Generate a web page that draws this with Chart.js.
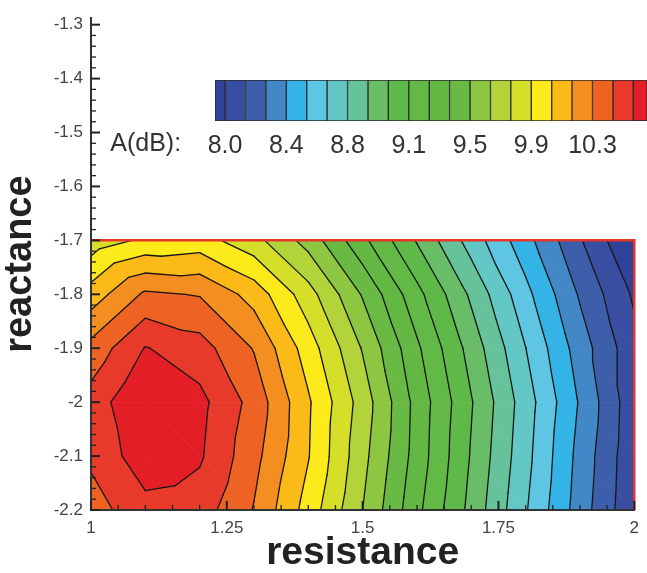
<!DOCTYPE html>
<html>
<head>
<meta charset="utf-8">
<script src="https://cdn.jsdelivr.net/npm/chart.js@4.4.1/dist/chart.umd.min.js"></script>
<style>
  body { margin: 0; background: #fff; }
  #wrap { position: relative; width: 647px; height: 573px; }
  #main-box { position: absolute; left: 0; top: 0; width: 647px; height: 573px; }
  #bar-box { position: absolute; left: 0; top: 0; width: 647px; height: 170px; }
</style>
</head>
<body>
<div id="wrap">
  <div id="main-box"><canvas id="main"></canvas></div>
  <div id="bar-box"><canvas id="legend"></canvas></div>
</div>
<script>
const RESISTANCE = [1.0, 1.1, 1.2, 1.3, 1.4, 1.5, 1.6, 1.7, 1.8, 1.9, 2.0];
const REACTANCE = [-1.7, -1.8, -1.9, -2.0, -2.1, -2.2];

// A(dB) per row of reactance, left to right in resistance
const A_170 = [9.84, 9.94, 9.97, 9.83, 9.61, 9.31, 9.01, 8.71, 8.43, 8.14, 7.86];
const A_180 = [10.10, 10.32, 10.29, 10.12, 9.84, 9.52, 9.19, 8.87, 8.55, 8.24, 7.98];
const A_190 = [10.34, 10.56, 10.48, 10.29, 9.98, 9.65, 9.30, 8.97, 8.64, 8.32, 8.04];
const A_200 = [10.48, 10.68, 10.59, 10.38, 10.06, 9.73, 9.36, 9.03, 8.70, 8.37, 8.04];
const A_210 = [10.45, 10.63, 10.57, 10.34, 10.05, 9.70, 9.35, 9.01, 8.68, 8.34, 8.03];
const A_220 = [10.37, 10.51, 10.49, 10.29, 9.99, 9.66, 9.31, 8.98, 8.65, 8.32, 8.02];
const A_ROWS = [A_170, A_180, A_190, A_200, A_210, A_220];

// contour levels and the colour of each band between them
const LEVELS = [8.0, 8.128, 8.255, 8.383, 8.511, 8.638, 8.766, 8.894, 9.021, 9.149, 9.277,
                9.404, 9.532, 9.660, 9.787, 9.915, 10.043, 10.170, 10.298, 10.426, 10.553];
const LEVEL_LABELS = [8.0, 8.383, 8.766, 9.149, 9.532, 9.915, 10.298];
const BAR_MIN = 7.937;
const BAR_MAX = 10.639;
const BAND_COLORS = [
    '#31429a', '#3a4ea1', '#3d5eab', '#4287c6', '#33b3e6', '#5ec6e3', '#63c7c6', '#66c29b',
    '#69bd67', '#5fb948', '#62b946', '#63b844', '#69ba44', '#8dc641', '#b2d339', '#d5df29',
    '#fcea1a', '#fbba18', '#f48e21', '#ee6223', '#e83a2a', '#e41e26',
];

const X_TICKS = [1, 1.25, 1.5, 1.75, 2];
const Y_TICKS = [-2.2, -2.1, -2.0, -1.9, -1.8, -1.7, -1.6, -1.5, -1.4, -1.3];

const FONT = "'Liberation Sans', Arial, sans-serif";

const clipPoly = (poly, f) => {
    const out = [];
    for (let k = 0; k < poly.length; k++) {
        const a = poly[k], b = poly[(k + 1) % poly.length];
        const fa = f(a), fb = f(b);
        if (fa >= 0) out.push(a);
        if ((fa >= 0) !== (fb >= 0)) {
            const t = fa / (fa - fb);
            out.push({ x: a.x + t * (b.x - a.x), y: a.y + t * (b.y - a.y), v: a.v + t * (b.v - a.v) });
        }
    }
    return out;
};

const levelSegment = (tri, lv) => {
    const pts = [];
    for (let k = 0; k < 3; k++) {
        const a = tri[k], b = tri[(k + 1) % 3];
        if ((a.v < lv) !== (b.v < lv)) {
            const t = (lv - a.v) / (b.v - a.v);
            pts.push([a.x + t * (b.x - a.x), a.y + t * (b.y - a.y)]);
        }
    }
    return pts.length === 2 ? pts : null;
};

const getTriangles = (chart) => {
    const { x, y } = chart.scales;
    const node = (i, j) => ({
        x: x.getPixelForValue(RESISTANCE[j]),
        y: y.getPixelForValue(REACTANCE[i]),
        v: A_ROWS[i][j],
    });
    const tris = [];
    for (let i = 0; i < REACTANCE.length - 1; i++) {
        for (let j = 0; j < RESISTANCE.length - 1; j++) {
            const p00 = node(i, j), p01 = node(i, j + 1), p10 = node(i + 1, j), p11 = node(i + 1, j + 1);
            tris.push([p00, p01, p11], [p00, p11, p10]);
        }
    }
    return tris;
};

// filled contour bands + contour lines, drawn under the axes
const contourPlugin = {
    id: 'contour',
    beforeDraw(chart) {
        const ctx = chart.ctx;
        const tris = getTriangles(chart);
        ctx.save();
        ctx.lineJoin = 'round';
        tris.forEach((tri) => {
            BAND_COLORS.forEach((color, b) => {
                let poly = tri;
                if (b > 0) poly = clipPoly(poly, p => p.v - LEVELS[b - 1]);
                if (b < LEVELS.length && poly.length) poly = clipPoly(poly, p => LEVELS[b] - p.v);
                if (poly.length < 3) return;
                ctx.beginPath();
                ctx.moveTo(poly[0].x, poly[0].y);
                poly.slice(1).forEach(p => ctx.lineTo(p.x, p.y));
                ctx.closePath();
                ctx.fillStyle = color;
                ctx.strokeStyle = color;
                ctx.lineWidth = 0.8;
                ctx.fill();
                ctx.stroke();
            });
        });
        ctx.strokeStyle = '#161616';
        ctx.lineWidth = 1.3;
        ctx.lineCap = 'round';
        tris.forEach((tri) => {
            LEVELS.forEach((lv) => {
                const seg = levelSegment(tri, lv);
                if (!seg) return;
                ctx.beginPath();
                ctx.moveTo(seg[0][0], seg[0][1]);
                ctx.lineTo(seg[1][0], seg[1][1]);
                ctx.stroke();
            });
        });
        ctx.restore();
    },
    afterDraw(chart) {
        const { ctx, scales: { x, y } } = chart;
        ctx.save();
        // red frame of the data zone
        const xl = x.getPixelForValue(RESISTANCE[0]);
        const xr = x.getPixelForValue(RESISTANCE[RESISTANCE.length - 1]);
        const yt = y.getPixelForValue(REACTANCE[0]);
        const yb = y.getPixelForValue(REACTANCE[REACTANCE.length - 1]);
        ctx.strokeStyle = '#e8352b';
        ctx.lineWidth = 2.5;
        ctx.beginPath();
        ctx.moveTo(xl, yt);
        ctx.lineTo(xr, yt);
        ctx.lineTo(xr, yb);
        ctx.stroke();

        // inward tick marks
        ctx.strokeStyle = '#222';
        const left = x.left, bottom = y.bottom;
        for (let k = 0; k <= 45; k++) {
            const py = y.getPixelForValue(-2.2 + k * 0.02);
            const major = k % 5 === 0;
            ctx.lineWidth = major ? 2 : 1.3;
            ctx.beginPath();
            ctx.moveTo(left, py);
            ctx.lineTo(left + (major ? 9 : 5), py);
            ctx.stroke();
        }
        for (let k = 0; k <= 20; k++) {
            const px = x.getPixelForValue(1 + k * 0.05);
            const major = k % 5 === 0;
            ctx.lineWidth = major ? 2 : 1.3;
            ctx.beginPath();
            ctx.moveTo(px, bottom);
            ctx.lineTo(px, bottom - (major ? 9 : 5));
            ctx.stroke();
        }
        ctx.restore();
    },
};

const gridPoints = [];
A_ROWS.forEach((row, i) => row.forEach((v, j) => gridPoints.push({ x: RESISTANCE[j], y: REACTANCE[i], a: v })));

new Chart(document.getElementById('main'), {
    type: 'scatter',
    data: {
        datasets: [{ data: gridPoints, pointRadius: 0, showLine: false }],
    },
    plugins: [contourPlugin],
    options: {
        responsive: true,
        maintainAspectRatio: false,
        animation: false,
        layout: { padding: { top: 13, right: 9, left: 0, bottom: 0 } },
        plugins: { legend: { display: false }, tooltip: { enabled: false } },
        scales: {
            x: {
                type: 'linear',
                min: 1,
                max: 2,
                afterFit: (s) => { s.height = 63; },
                afterBuildTicks: (s) => { s.ticks = X_TICKS.map(v => ({ value: v })); },
                ticks: {
                    padding: 8,
                    autoSkip: false,
                    maxRotation: 0,
                    color: '#444',
                    font: { family: FONT, size: 17 },
                    callback: v => String(v),
                },
                grid: { display: false, drawTicks: false },
                border: { display: true, color: '#333', width: 2 },
                title: {
                    display: true,
                    text: 'resistance',
                    color: '#222',
                    padding: 0,
                    font: { family: FONT, size: 39, weight: 'bold', lineHeight: 1 },
                },
            },
            y: {
                type: 'linear',
                min: -2.2,
                max: -1.288,
                afterFit: (s) => { s.width = 91; },
                afterBuildTicks: (s) => { s.ticks = Y_TICKS.map(v => ({ value: v })); },
                ticks: {
                    padding: 8,
                    autoSkip: false,
                    color: '#444',
                    font: { family: FONT, size: 17 },
                    callback: v => String(Math.round(v * 10) / 10),
                },
                grid: { display: false, drawTicks: false },
                border: { display: true, color: '#333', width: 2 },
                title: {
                    display: true,
                    text: 'reactance',
                    color: '#222',
                    padding: { top: 2, bottom: 0 },
                    font: { family: FONT, size: 38, weight: 'bold', lineHeight: 1 },
                },
            },
        },
    },
});

// colour bar legend
const bandEdges = [BAR_MIN, ...LEVELS, BAR_MAX];

const legendLabelPlugin = {
    id: 'legendLabel',
    afterDraw(chart) {
        const { ctx, scales: { x } } = chart;
        ctx.save();
        ctx.font = `25px ${FONT}`;
        ctx.fillStyle = '#333';
        ctx.textAlign = 'right';
        ctx.textBaseline = 'middle';
        ctx.fillText('A(dB):', x.getPixelForValue(LEVELS[0]) - 44, x.bottom - 26);
        ctx.restore();
    },
};

new Chart(document.getElementById('legend'), {
    type: 'bar',
    data: {
        labels: ['A'],
        datasets: BAND_COLORS.map((color, b) => ({
            data: [[bandEdges[b], bandEdges[b + 1]]],
            backgroundColor: color,
            borderColor: '#2b2b2b',
            borderWidth: 1,
            borderSkipped: false,
            grouped: false,
            barPercentage: 1,
            categoryPercentage: 1,
        })),
    },
    plugins: [legendLabelPlugin],
    options: {
        indexAxis: 'y',
        responsive: true,
        maintainAspectRatio: false,
        animation: false,
        events: [],
        layout: { padding: { left: 215, right: 0, top: 80, bottom: 0 } },
        plugins: { legend: { display: false }, tooltip: { enabled: false } },
        scales: {
            x: {
                type: 'linear',
                min: BAR_MIN,
                max: BAR_MAX,
                afterFit: (s) => { s.height = 49; },
                afterBuildTicks: (s) => { s.ticks = LEVEL_LABELS.map(v => ({ value: v })); },
                ticks: {
                    padding: 10,
                    autoSkip: false,
                    maxRotation: 0,
                    color: '#333',
                    font: { family: FONT, size: 25 },
                    callback: v => v.toFixed(1),
                },
                grid: { display: false, drawTicks: false },
                border: { display: false },
            },
            y: { display: false },
        },
    },
});
</script>
</body>
</html>
